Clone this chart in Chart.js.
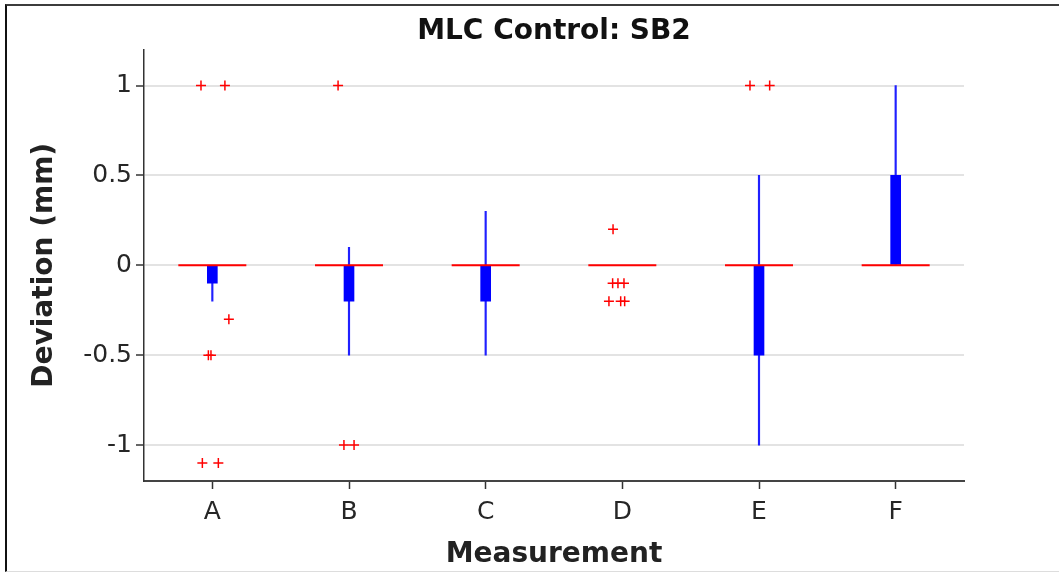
<!DOCTYPE html>
<html>
<head>
<meta charset="utf-8">
<script src="https://cdn.jsdelivr.net/npm/chart.js@4"></script>
<style>
    body { margin: 0; background: #fff; }
    #myChart { position: absolute; left: 0; top: 0; }
    .frame {
        position: absolute; left: 5px; top: 4px; width: 1054px; height: 568px;
        box-sizing: border-box; border-top: 2px solid #3c3c3c; border-left: 2px solid #111;
        border-bottom: 1px solid #ddd; pointer-events: none;
    }
</style>
</head>
<body>
<canvas id="myChart" width="1059" height="572"></canvas>
<div class="frame"></div>
<script>
const categories = ["A", "B", "C", "D", "E", "F"];
const yTicks = [-1, -0.5, 0, 0.5, 1];

// box plot stats per measurement
const medians = [0, 0, 0, 0, 0, 0];
const q1 = [-0.1, -0.2, -0.2, 0, -0.5, 0];
const q3 = [0, 0, 0, 0, 0, 0.5];
const whiskerLow = [-0.2, -0.5, -0.5, 0, -1, 0];
const whiskerHigh = [0, 0.1, 0.3, 0, 0.5, 1];

const outlierGroup = [0, 0, 0, 0, 0, 0, 0, 1, 1, 1, 3, 3, 3, 3, 3, 3, 3, 4, 4];
const outlierValue = [1, 1, -0.3, -0.5, -0.5, -1.1, -1.1, 1, -1, -1, 0.2, -0.1, -0.1, -0.1, -0.2, -0.2, -0.2, 1, 1];
const outlierJitter = [-0.083, 0.092, 0.121, -0.029, -0.01, -0.073, 0.044, -0.08, -0.037, 0.037,
    -0.068, -0.071, -0.032, 0.012, -0.098, -0.012, 0.017, -0.066, 0.078];

const tickFont = { family: "DejaVu Sans", size: 25 };
const titleFont = { family: "DejaVu Sans", size: 28, weight: "bold" };

let medianPoints = [];
let boxBars = [];
let whiskerBars = [];
for (let i = 0; i < categories.length; i++) {
    medianPoints[i] = { x: i, y: medians[i] };
    boxBars[i] = { x: i, y: [q1[i], q3[i]] };
    whiskerBars[i] = { x: i, y: [whiskerLow[i], whiskerHigh[i]] };
}
let outlierPoints = [];
for (let i = 0; i < outlierGroup.length; i++) {
    outlierPoints[i] = { x: outlierGroup[i] + outlierJitter[i], y: outlierValue[i] };
}

const data = {
    datasets: [{
        type: 'scatter',
        data: outlierPoints,
        pointStyle: 'cross',
        pointRadius: 5,
        borderColor: '#ff0000',
        pointBorderWidth: 1.5
    }, {
        type: 'line',
        data: medianPoints,
        showLine: false,
        pointStyle: 'line',
        pointRadius: 34,
        borderColor: '#ff0000',
        pointBorderWidth: 2
    }, {
        type: 'bar',
        data: boxBars,
        backgroundColor: '#0000ff',
        barThickness: 10,
        grouped: false
    }, {
        type: 'bar',
        data: whiskerBars,
        backgroundColor: '#2020ff',
        barThickness: 1.5,
        grouped: false
    }]
};

const config = {
    data: data,
    options: {
        responsive: false,
        animation: false,
        events: [],
        layout: { padding: { left: 24, right: 95, top: 6, bottom: 0 } },
        plugins: {
            legend: { display: false },
            tooltip: { enabled: false },
            title: {
                display: true,
                text: 'MLC Control: SB2',
                fullSize: false,
                color: '#111',
                font: titleFont,
                padding: { top: 9, bottom: 1 }
            }
        },
        scales: {
            x: {
                type: 'linear',
                min: -0.5,
                max: 5.5,
                offset: false,
                afterBuildTicks: (axis) => { axis.ticks = categories.map((c, i) => ({ value: i })); },
                afterFit: (axis) => { axis.height = 91; },
                ticks: {
                    callback: (v) => categories[v],
                    color: '#262626',
                    font: tickFont,
                    padding: 8
                },
                grid: { offset: false, drawOnChartArea: false, tickLength: 8, tickColor: '#333', tickWidth: 1.5 },
                border: { color: '#444', width: 2 },
                title: {
                    display: true,
                    text: 'Measurement',
                    color: '#222',
                    font: titleFont,
                    padding: { top: 0, bottom: 0 }
                }
            },
            y: {
                min: -1.2,
                max: 1.2,
                afterBuildTicks: (axis) => { axis.ticks = yTicks.map(v => ({ value: v })); },
                afterFit: (axis) => { axis.width = 120; },
                ticks: {
                    callback: (v) => v.toString(),
                    color: '#262626',
                    font: tickFont,
                    padding: 4
                },
                grid: { color: '#e3e3e3', lineWidth: 2, tickLength: 8, tickColor: '#333', tickWidth: 1.5 },
                border: { color: '#333', width: 1.5 },
                title: {
                    display: true,
                    text: 'Deviation (mm)',
                    color: '#222',
                    font: titleFont,
                    padding: { top: 4, bottom: 4 }
                }
            }
        }
    }
};

const ctx = document.getElementById('myChart');
let myChart = new Chart(ctx, config);
</script>
</body>
</html>
